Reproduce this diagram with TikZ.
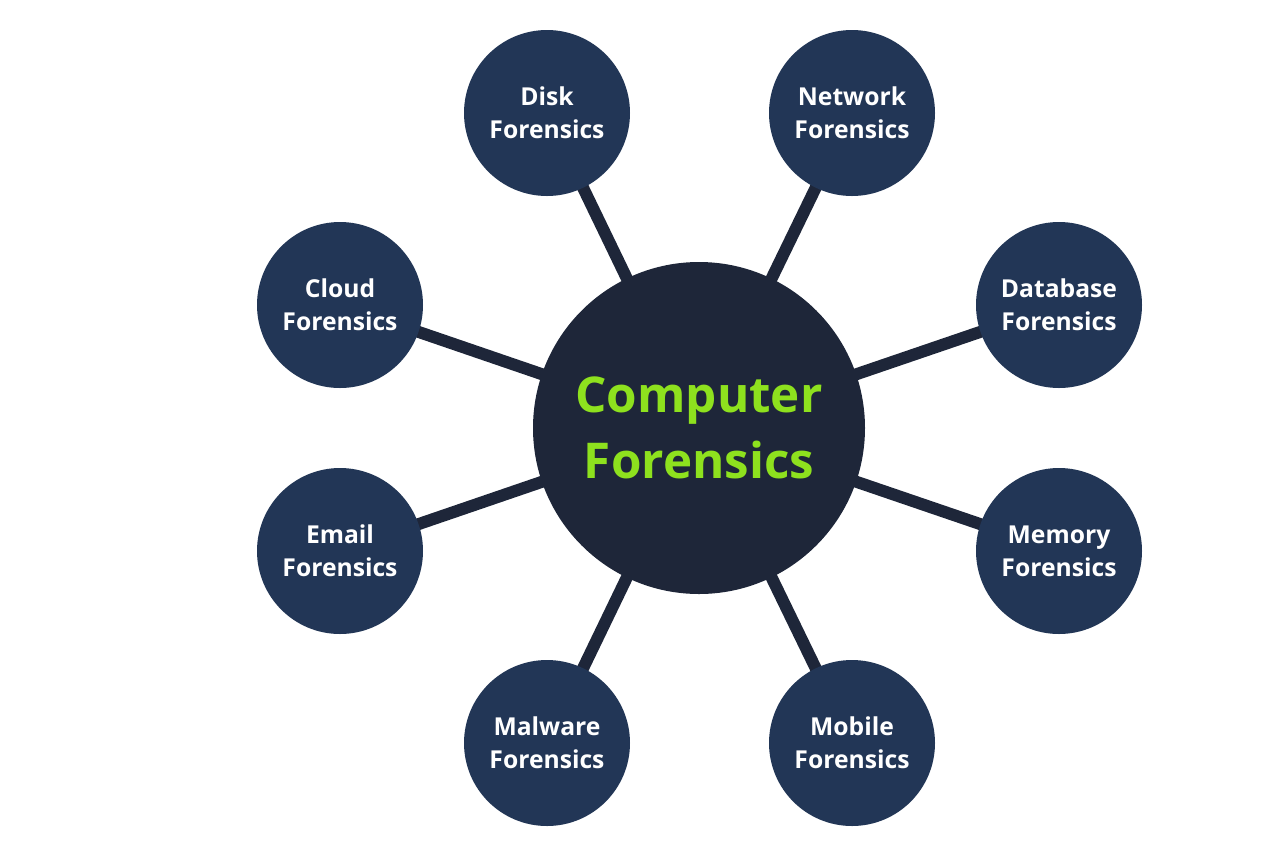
\documentclass[tikz,border=0pt]{standalone}
\usepackage{fontspec}
\setmainfont{Open Sans}
\usetikzlibrary{backgrounds}
\definecolor{hubnavy}{HTML}{1E2639}
\definecolor{leafnavy}{HTML}{223656}
\definecolor{limegreen}{HTML}{8EE11E}

\tikzset{
  hub/.style={circle, fill=hubnavy, minimum size=249pt, inner sep=0pt,
    align=center, text=limegreen, font=\fontsize{37}{49.5}\selectfont\bfseries},
  leaf/.style={circle, fill=leafnavy, minimum size=124.5pt, inner sep=0pt,
    align=center, text=white, font=\fontsize{18.5}{24.75}\selectfont\bfseries},
  spoke/.style={draw=hubnavy, line width=9pt}
}

\begin{document}
\begin{tikzpicture}[x=0.75pt, y=-0.75pt]
  \useasboundingbox (0,0) rectangle (1279,840);

  % Centre
  \node[hub] (comp) at (699,428) {Computer\\Forensics};

  % Branches
  \node[leaf] (disk) at (547,113) {Disk\\Forensics};
  \node[leaf] (network) at (852,113) {Network\\Forensics};
  \node[leaf] (cloud) at (340,305) {Cloud\\Forensics};
  \node[leaf] (database) at (1059,305) {Database\\Forensics};
  \node[leaf] (email) at (340,551) {Email\\Forensics};
  \node[leaf] (memory) at (1059,551) {Memory\\Forensics};
  \node[leaf] (malware) at (547,743) {Malware\\Forensics};
  \node[leaf] (mobile) at (852,743) {Mobile\\Forensics};

  % Spokes
  \begin{scope}[on background layer]
    \foreach \leafname in {disk,network,cloud,database,email,memory,malware,mobile}
      \draw[spoke] (comp.center) -- (\leafname.center);
  \end{scope}
\end{tikzpicture}
\end{document}
